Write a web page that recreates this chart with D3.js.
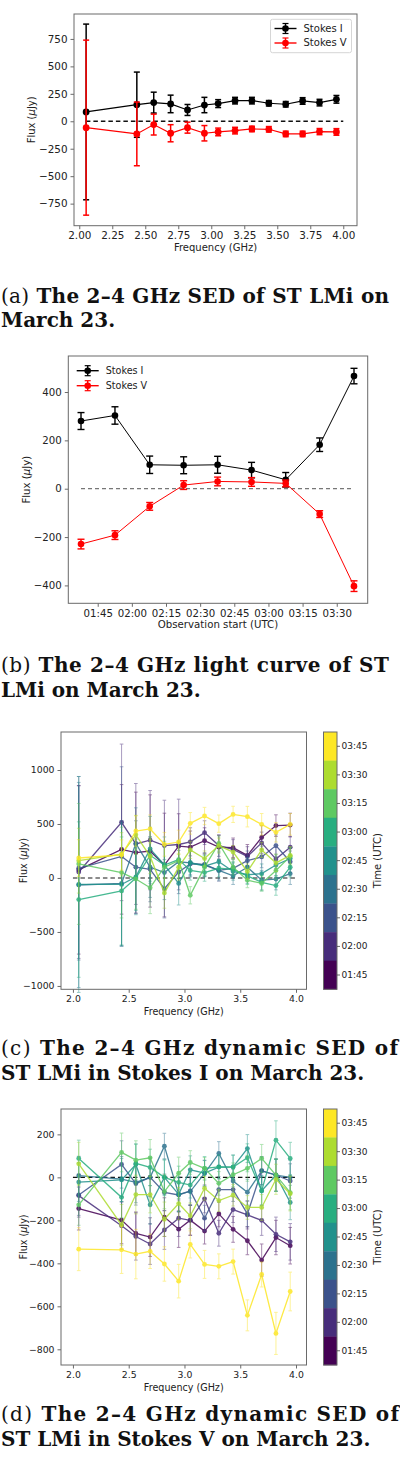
<!DOCTYPE html>
<html>
<head>
<meta charset="utf-8">
<script src="https://cdn.jsdelivr.net/npm/d3@7"></script>
<style>
  body { margin: 0; background: #fff; }
  svg { display: block; }
  text { font-family: "DejaVu Sans", sans-serif; fill: #222; }
  .cap { font-family: "DejaVu Serif", serif; font-weight: bold; fill: #111; }
</style>
</head>
<body>
<div id="fig"></div>
<script>
// spectral window centres (GHz), same for every SED panel
const freqs = [2.052, 2.436, 2.564, 2.692, 2.820, 2.948, 3.052, 3.180, 3.308, 3.436, 3.564, 3.692, 3.820, 3.948];

// (a) time-averaged SED
const sedI    = [85, 151, 170, 158, 103, 148, 161, 188, 188, 164, 155, 185, 170, 200];
const sedIErr = [800, 297, 95, 80, 50, 70, 36, 30, 30, 25, 25, 30, 30, 35];
const sedV    = [-58, -115, -30, -109, -58, -109, -97, -85, -70, -73, -115, -115, -94, -97];
const sedVErr = [797, 290, 95, 78, 50, 70, 35, 30, 25, 25, 25, 25, 28, 30];
const sedTicksX = [2.00, 2.25, 2.50, 2.75, 3.00, 3.25, 3.50, 3.75, 4.00];
const sedTicksY = [-750, -500, -250, 0, 250, 500, 750];
const sedZeroSpan = [2.05, 4.0];

// (b) light curve
const obsTimes = ["01:37:40", "01:52:35", "02:07:50", "02:22:45", "02:37:40", "02:52:35", "03:07:35", "03:22:30", "03:37:35"];
const lcI    = [280, 303, 99, 97, 99, 77, 37, 182, 466];
const lcIErr = [35, 36, 36, 35, 35, 32, 30, 28, 32];
const lcV    = [-229, -192, -73, 15, 30, 28, 22, -105, -403];
const lcVErr = [20, 18, 16, 18, 18, 18, 14, 14, 22];
const lcTicksX = ["01:45", "02:00", "02:15", "02:30", "02:45", "03:00", "03:15", "03:30"];
const lcTicksY = [-400, -200, 0, 200, 400];

// (c), (d) dynamic SEDs, one row per time slot
const timeLabels = ["01:45", "02:00", "02:15", "02:30", "02:45", "03:00", "03:15", "03:30", "03:45"];
const dynI = [
  [75, 265, 235, 250, 120, 295, 285, 345, 285, 280, 210, 375, 485, 490],
  [55, 515, 315, 350, 300, 310, 335, 420, 300, 265, 200, 325, 175, 285],
  [90, 200, 100, 80, -100, 55, 130, 125, 70, 90, 160, 195, 300, 150],
  [-65, -50, 320, 100, 50, 150, 140, 120, 70, 20, 100, -20, -10, 40],
  [-60, -60, 10, 270, 120, -50, 140, 110, 150, 60, 30, 40, 120, 180],
  [-200, -120, 0, 210, 120, 170, 70, 50, 90, 80, 20, -40, -70, 100],
  [130, 50, -10, -90, 100, 160, -160, 100, 320, 100, -20, -50, 70, 200],
  [160, 220, 400, 200, -140, 100, 260, 180, 300, 240, 60, 260, 140, 210],
  [185, 213, 435, 454, 312, 333, 506, 574, 503, 589, 568, 497, 423, 497]
];
const dynIErr = [
  [780, 600, 560, 520, 480, 300, 150, 120, 110, 90, 100, 110, 100, 110],
  [800, 725, 560, 460, 420, 420, 130, 110, 100, 90, 90, 100, 110, 100],
  [850, 830, 430, 300, 270, 200, 120, 110, 100, 90, 90, 100, 100, 100],
  [950, 580, 330, 280, 250, 190, 110, 100, 90, 80, 90, 90, 100, 100],
  [1000, 570, 350, 300, 260, 200, 120, 100, 90, 80, 80, 90, 100, 100],
  [720, 500, 300, 260, 220, 170, 90, 80, 80, 70, 80, 80, 90, 90],
  [560, 420, 280, 240, 200, 160, 80, 80, 70, 70, 70, 70, 80, 80],
  [300, 200, 180, 160, 140, 120, 80, 70, 70, 60, 70, 70, 80, 80],
  [170, 140, 140, 130, 110, 110, 100, 80, 80, 75, 95, 100, 90, 100]
];
const dynV = [
  [-145, -199, -261, -278, -185, -241, -199, -250, -170, -242, -295, -385, -280, -318],
  [-85, -225, -275, -310, -245, -190, -200, -100, -260, -150, -175, -200, -265, -300],
  [-82, 60, -29, 0, -70, -82, -63, -190, -57, -57, -170, 31, 11, -17],
  [8, -8, -23, 0, 145, -79, -66, 18, 111, -17, -69, 30, 10, 0],
  [-22, -12, 60, -128, 0, -79, 35, 20, 48, 49, 134, -62, 10, -117],
  [88, -93, 65, 46, 0, -23, -36, 42, 49, 48, 91, -63, 173, 88],
  [-128, 116, 80, 91, -66, 19, 69, 42, -28, 12, 42, 88, 10, -71],
  [63, -221, -80, -80, -195, -122, -179, -51, -108, -83, -140, -140, -9, -76],
  [-334, -337, -357, -344, -403, -483, -312, -405, -414, -392, -642, -452, -726, -531]
];
const dynVErr = [
  [100, 110, 100, 90, 90, 85, 70, 60, 60, 60, 65, 75, 80, 85],
  [100, 110, 110, 95, 90, 85, 70, 65, 60, 60, 65, 70, 80, 85],
  [95, 110, 100, 90, 85, 80, 65, 60, 60, 55, 60, 65, 75, 80],
  [90, 105, 95, 90, 60, 80, 65, 60, 55, 55, 60, 65, 75, 80],
  [90, 100, 95, 90, 85, 80, 65, 60, 55, 55, 65, 70, 75, 80],
  [85, 95, 90, 85, 80, 75, 60, 55, 55, 55, 65, 65, 90, 75],
  [95, 90, 90, 85, 80, 75, 55, 50, 55, 55, 60, 65, 75, 80],
  [100, 95, 90, 85, 80, 75, 60, 55, 50, 50, 55, 60, 70, 80],
  [100, 110, 115, 80, 80, 78, 63, 65, 58, 58, 72, 58, 98, 90]
];
const dynTicksX = [2.0, 2.5, 3.0, 3.5, 4.0];
const dynITicksY = [-1000, -500, 0, 500, 1000];
const dynVTicksY = [-800, -600, -400, -200, 0, 200];
const dynZeroSpan = [2.0, 4.0];

const captions = [
  ["(a)", " The 2–4 GHz SED of ST LMi on", "March 23."],
  ["(b)", " The 2–4 GHz light curve of ST", "LMi on March 23."],
  ["(c)", " The 2–4 GHz dynamic SED of", "ST LMi in Stokes I on March 23."],
  ["(d)", " The 2–4 GHz dynamic SED of", "ST LMi in Stokes V on March 23."]
];

const svg = d3.select("#fig").append("svg")
  .attr("width", 400).attr("height", 1458);

const viridis = d3.scaleOrdinal()
  .domain(timeLabels)
  .range(timeLabels.map((d, i) => d3.interpolateViridis(i / (timeLabels.length - 1))));

// axes + frame in matplotlib style
function drawAxes(x, y, o) {
  const g = svg.append("g");
  const xa = g.append("g").attr("transform", `translate(0,${y.range()[0]})`)
    .call(d3.axisBottom(x).tickValues(o.xTicks).tickFormat(o.xFmt).tickSize(3.5).tickPadding(2.5));
  const ya = g.append("g").attr("transform", `translate(${x.range()[0]},0)`)
    .call(d3.axisLeft(y).tickValues(o.yTicks).tickFormat(d3.format("d")).tickSize(3.5).tickPadding(3));
  [xa, ya].forEach(a => {
    a.select(".domain").remove();
    a.selectAll(".tick line").attr("stroke", "#444").attr("stroke-width", 0.8);
    a.selectAll("text").style("font-size", o.tickFs + "px").attr("fill", "#222");
  });
  g.append("rect")
    .attr("x", x.range()[0]).attr("y", y.range()[1])
    .attr("width", x.range()[1] - x.range()[0]).attr("height", y.range()[0] - y.range()[1])
    .attr("fill", "none").attr("stroke", "#6a6a6a").attr("stroke-width", 1);
  // axis labels
  g.append("text").attr("x", (x.range()[0] + x.range()[1]) / 2).attr("y", o.xLabelY)
    .attr("text-anchor", "middle").attr("dominant-baseline", "middle")
    .style("font-size", o.labelFs + "px").text(o.xLabel);
  const yl = g.append("text")
    .attr("transform", `translate(${o.yLabelX},${(y.range()[0] + y.range()[1]) / 2}) rotate(-90)`)
    .attr("text-anchor", "middle").attr("dominant-baseline", "middle")
    .style("font-size", o.labelFs + "px");
  yl.append("tspan").text("Flux (");
  yl.append("tspan").style("font-style", "italic").text("μ");
  yl.append("tspan").text("Jy)");
  return g;
}

// one errorbar series: line, bars with caps, markers
function errSeries(x, y, xs, ys, es, o) {
  const g = svg.append("g").attr("opacity", o.alpha || 1);
  const pts = xs.map((v, i) => ({x: v, y: ys[i], e: es[i]}));
  g.append("path").datum(pts)
    .attr("d", d3.line().x(d => x(d.x)).y(d => y(d.y)))
    .attr("fill", "none").attr("stroke", o.color).attr("stroke-width", o.lw);
  const bars = g.append("g").attr("opacity", o.barAlpha || 1);
  bars.selectAll("line.bar").data(pts).join("line").attr("class", "bar")
    .attr("x1", d => x(d.x)).attr("x2", d => x(d.x))
    .attr("y1", d => y(d.y - d.e)).attr("y2", d => y(d.y + d.e))
    .attr("stroke", o.color).attr("stroke-width", o.bw);
  [-1, 1].forEach(s => {
    bars.selectAll(null).data(pts).join("line")
      .attr("x1", d => x(d.x) - o.cap).attr("x2", d => x(d.x) + o.cap)
      .attr("y1", d => y(d.y + s * d.e)).attr("y2", d => y(d.y + s * d.e))
      .attr("stroke", o.color).attr("stroke-width", o.bw);
  });
  g.selectAll("circle").data(pts).join("circle")
    .attr("cx", d => x(d.x)).attr("cy", d => y(d.y)).attr("r", o.r)
    .attr("fill", o.color);
}

function zeroLine(x, y, span, color, w) {
  svg.append("line")
    .attr("x1", x(span[0])).attr("x2", x(span[1]))
    .attr("y1", y(0)).attr("y2", y(0))
    .attr("stroke", color).attr("stroke-width", w).attr("stroke-dasharray", "4.5,3");
}

function legendItem(lx, ly, color, label, fs) {
  const g = svg.append("g").attr("transform", `translate(${lx},${ly})`);
  g.append("line").attr("x1", 0).attr("x2", 22).attr("stroke", color).attr("stroke-width", 1.4);
  g.append("line").attr("x1", 11).attr("x2", 11).attr("y1", -5).attr("y2", 5).attr("stroke", color).attr("stroke-width", 1.4);
  [-5, 5].forEach(v => g.append("line").attr("x1", 8).attr("x2", 14).attr("y1", v).attr("y2", v)
    .attr("stroke", color).attr("stroke-width", 1.2));
  g.append("circle").attr("cx", 11).attr("r", 3.3).attr("fill", color);
  g.append("text").attr("x", 29).attr("dominant-baseline", "middle").style("font-size", fs + "px").text(label);
}

// ---------- (a) SED ----------
{
  const x = d3.scaleLinear().domain([1.96, 4.104]).range([74, 357]);
  const y = d3.scaleLinear().domain([-951, 977]).range([225.7, 14]);
  drawAxes(x, y, {xTicks: sedTicksX, yTicks: sedTicksY, xFmt: d3.format(".2f"),
    tickFs: 10.4, labelFs: 10, xLabel: "Frequency (GHz)", xLabelY: 248, yLabelX: 32});
  zeroLine(x, y, sedZeroSpan, "#111", 1.4);
  errSeries(x, y, freqs, sedI, sedIErr, {color: "#000", lw: 1.2, bw: 1.5, cap: 3, r: 3.4});
  errSeries(x, y, freqs, sedV, sedVErr, {color: "#ff0000", lw: 1.2, bw: 1.5, cap: 3, r: 3.4});
  svg.append("rect").attr("x", 270.5).attr("y", 19.3).attr("width", 81).attr("height", 33.4)
    .attr("rx", 2).attr("fill", "#fff").attr("fill-opacity", 0.85).attr("stroke", "#d6d6d6");
  legendItem(274.5, 28.5, "#000", "Stokes I", 10);
  legendItem(274.5, 43, "#ff0000", "Stokes V", 10);
}

// ---------- (b) light curve ----------
{
  const parse = d3.utcParse("%H:%M:%S");
  const parseHM = d3.utcParse("%H:%M");
  const times = obsTimes.map(parse);
  const x = d3.scaleUtc().domain([parse("01:32:05"), parse("03:43:36")]).range([68.3, 367.7]);
  const y = d3.scaleLinear().domain([-474, 549]).range([603.3, 356]);
  drawAxes(x, y, {xTicks: lcTicksX.map(parseHM), yTicks: lcTicksY, xFmt: d3.utcFormat("%H:%M"),
    tickFs: 10.2, labelFs: 10.2, xLabel: "Observation start (UTC)", xLabelY: 625, yLabelX: 26.5});
  svg.append("line")
    .attr("x1", x(times[0])).attr("x2", x(times[times.length - 1]))
    .attr("y1", y(0)).attr("y2", y(0))
    .attr("stroke", "#555").attr("stroke-width", 1).attr("stroke-dasharray", "4,3");
  errSeries(x, y, times, lcI, lcIErr, {color: "#000", lw: 1, bw: 1.4, cap: 3.5, r: 3.3});
  errSeries(x, y, times, lcV, lcVErr, {color: "#ff0000", lw: 1, bw: 1.4, cap: 3.5, r: 3.3});
  legendItem(76.7, 370.7, "#000", "Stokes I", 9.6);
  legendItem(76.7, 385.7, "#ff0000", "Stokes V", 9.6);
}

// colorbar for the dynamic panels
function colorbar(top, bottom) {
  const band = d3.scaleBand().domain(timeLabels.slice().reverse()).range([top, bottom]);
  const g = svg.append("g");
  g.selectAll("rect").data(band.domain()).join("rect")
    .attr("x", 323.5).attr("y", d => band(d)).attr("width", 13.5).attr("height", band.bandwidth() + 0.3)
    .attr("fill", d => viridis(d));
  g.append("rect").attr("x", 323.5).attr("y", top).attr("width", 13.5).attr("height", bottom - top)
    .attr("fill", "none").attr("stroke", "#6a6a6a");
  const ax = g.append("g").attr("transform", "translate(337,0)")
    .call(d3.axisRight(band).tickSize(3).tickPadding(1.5));
  ax.select(".domain").remove();
  ax.selectAll(".tick line").attr("stroke", "#444").attr("stroke-width", 0.8);
  ax.selectAll("text").style("font-size", "9px");
  g.append("text").attr("transform", `translate(378,${(top + bottom) / 2}) rotate(-90)`)
    .attr("text-anchor", "middle").attr("dominant-baseline", "middle")
    .style("font-size", "10px").text("Time (UTC)");
}

function dynPanel(vals, errs, yDomain, yRange, yTicks, zeroColor, labelY, tickFs) {
  const x = d3.scaleLinear().domain([1.893, 4.094]).range([61, 306.5]);
  const y = d3.scaleLinear().domain(yDomain).range(yRange);
  drawAxes(x, y, {xTicks: dynTicksX, yTicks: yTicks, xFmt: d3.format(".1f"),
    tickFs: tickFs, labelFs: 9.6, xLabel: "Frequency (GHz)", xLabelY: labelY, yLabelX: 24});
  zeroLine(x, y, dynZeroSpan, zeroColor, 1.4);
  vals.forEach((row, i) => {
    errSeries(x, y, freqs, row, errs[i], {color: viridis(timeLabels[i]), lw: 1.3, bw: 0.9,
      cap: 1.8, r: 2.4, alpha: 0.85, barAlpha: 0.6});
  });
  colorbar(yRange[1], yRange[0]);
}

// ---------- (c) dynamic SED, Stokes I ----------
dynPanel(dynI, dynIErr, [-1031, 1352], [989.3, 732], dynITicksY, "#666", 1011.7, 9.3);

// ---------- (d) dynamic SED, Stokes V ----------
dynPanel(dynV, dynVErr, [-873, 318], [1365, 1109], dynVTicksY, "#111", 1388, 9.3);

// ---------- captions (first line justified to the column width) ----------
const capY = [[303, 327], [672, 697], [1055, 1080], [1421, 1446]];
const capW = [388, 388, 397, 398];
captions.forEach((c, i) => {
  const t1 = svg.append("text").attr("class", "cap").attr("x", 1).attr("y", capY[i][0])
    .attr("textLength", capW[i]).attr("lengthAdjust", "spacing").style("font-size", "20px");
  t1.append("tspan").attr("font-weight", "normal").text(c[0]);
  t1.append("tspan").text(c[1]);
  svg.append("text").attr("class", "cap").attr("x", 1).attr("y", capY[i][1])
    .style("font-size", "20px").text(c[2]);
});
</script>
</body>
</html>
